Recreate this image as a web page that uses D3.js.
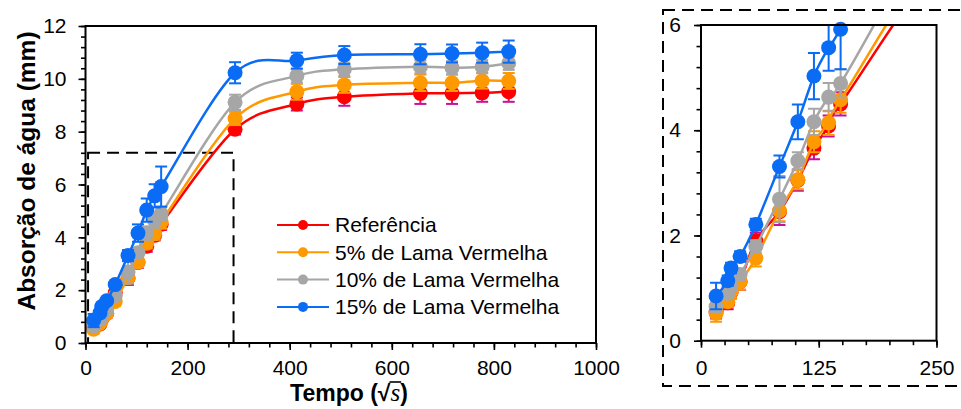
<!DOCTYPE html>
<html>
<head>
<meta charset="utf-8">
<script src="https://cdn.jsdelivr.net/npm/d3@7"></script>
<style>
  body { margin: 0; background: #fff; }
  svg { display: block; }
  text { font-family: "Liberation Sans", Arial, sans-serif; fill: #000; }
</style>
</head>
<body>
<svg id="chart" width="961" height="409"></svg>
<script>
// Time in √s for each reading
const times = [16, 28.4, 31.9, 41.5, 58.2, 83.3, 102.8, 119.9, 135.5, 148.2,
               293, 414, 507, 656, 718, 777, 829];

// Water absorption (mm) per mix
const referencia = [0.55, 0.72, 0.92, 1.12, 1.90, 2.45, 3.05, 3.66, 4.08, 4.50,
                    8.09, 9.05, 9.32, 9.45, 9.45, 9.47, 9.51];
const lama5  = [0.52, 0.74, 0.93, 1.12, 1.57, 2.47, 3.06, 3.78, 4.14, 4.58,
                8.50, 9.51, 9.77, 9.85, 9.85, 9.93, 9.92];
const lama10 = [0.65, 0.90, 1.06, 1.26, 1.79, 2.69, 3.42, 4.16, 4.63, 4.89,
                9.11, 10.11, 10.36, 10.46, 10.42, 10.46, 10.59];
const lama15 = [0.85, 1.14, 1.38, 1.60, 2.21, 3.31, 4.16, 5.03, 5.57, 5.92,
                10.23, 10.69, 10.90, 10.93, 10.96, 10.99, 11.03];

// Standard deviations (mm)
const errReferencia = [0.13, 0.12, 0.12, 0.15, 0.15, 0.25, 0.20, 0.21, 0.20, 0.22,
                       0.20, 0.25, 0.34, 0.40, 0.40, 0.34, 0.38];
const errLama5  = [0.16, 0.10, 0.12, 0.15, 0.16, 0.20, 0.18, 0.20, 0.23, 0.25,
                   0.25, 0.30, 0.30, 0.31, 0.31, 0.30, 0.30];
const errLama10 = [0.12, 0.10, 0.10, 0.10, 0.12, 0.44, 0.16, 0.25, 0.27, 0.27,
                   0.29, 0.25, 0.25, 0.25, 0.25, 0.25, 0.25];
const errLama15 = [0.25, 0.10, 0.10, 0.10, 0.11, 0.21, 0.33, 0.44, 0.44, 0.76,
                   0.40, 0.30, 0.34, 0.38, 0.34, 0.38, 0.42];

const seriesNames = ["Referência", "5% de Lama Vermelha", "10% de Lama Vermelha", "15% de Lama Vermelha"];

// Axis ticks
const mainXTicks = [0, 200, 400, 600, 800, 1000];
const mainYTicks = [0, 2, 4, 6, 8, 10, 12];
const insetXTicks = [0, 125, 250];
const insetYTicks = [0, 2, 4, 6];

// Region of the main chart that the detail panel enlarges
const zoomX = [5, 290];
const zoomY = [0, 7.2];

const series = [
  { name: seriesNames[0], values: referencia, err: errReferencia, color: "#ff0000", errColor: "#c8109a" },
  { name: seriesNames[1], values: lama5,      err: errLama5,      color: "#ff9900", errColor: "#ff9900" },
  { name: seriesNames[2], values: lama10,     err: errLama10,     color: "#a6a6a6", errColor: "#a6a6a6" },
  { name: seriesNames[3], values: lama15,     err: errLama15,     color: "#0a6cf5", errColor: "#0a6cf5" }
];

const svg = d3.select("#chart");
const FONT = 21;

// ---------- helpers ----------
function drawAxes(g, x, y, xMajor, xMinorStep, yMajor, yMinorStep, opts) {
  const [x0, x1] = x.range();
  const [y0, y1] = y.range();
  const xd = x.domain(), yd = y.domain();
  const xMinor = d3.range(0, Math.round((xd[1] - xd[0]) / xMinorStep) + 1).map(i => xd[0] + i * xMinorStep);
  const yMinor = d3.range(0, Math.round((yd[1] - yd[0]) / yMinorStep) + 1).map(i => yd[0] + i * yMinorStep);

  const style = sel => {
    sel.select(".domain").remove();
    sel.selectAll(".tick line").attr("stroke", "#000").attr("stroke-width", 1.6);
    sel.selectAll(".tick text").attr("font-size", FONT).attr("font-family", "Liberation Sans, Arial, sans-serif").attr("fill", "#000");
  };

  g.append("g").attr("transform", `translate(0,${y0})`)
    .call(d3.axisBottom(x).tickValues(xMinor).tickSize(4.5).tickFormat("")).call(style);
  g.append("g").attr("transform", `translate(0,${y0})`)
    .call(d3.axisBottom(x).tickValues(xMajor).tickSize(7).tickPadding(opts.xPad).tickFormat(d3.format("d"))).call(style);
  g.append("g").attr("transform", `translate(${x0},0)`)
    .call(d3.axisLeft(y).tickValues(yMinor).tickSize(4.5).tickFormat("")).call(style);
  g.append("g").attr("transform", `translate(${x0},0)`)
    .call(d3.axisLeft(y).tickValues(yMajor).tickSize(7).tickPadding(opts.yPad).tickFormat(d3.format("d"))).call(style);

  g.append("rect")
    .attr("x", x0).attr("y", y1).attr("width", x1 - x0).attr("height", y0 - y1)
    .attr("fill", "none").attr("stroke", "#000").attr("stroke-width", 2);
}

function drawSeries(g, x, y, s, opts) {
  const pts = times.map((t, i) => ({ t, v: s.values[i], e: s.err[i] }));
  const shown = pts.filter(p => p.t <= x.domain()[1]);
  const line = d3.line().x(p => x(p.t)).y(p => y(p.v)).curve(d3.curveCardinal.tension(0));

  const clipped = g.append("g").attr("clip-path", opts.clip ? `url(#${opts.clip})` : null);
  clipped.append("path").datum(pts)
    .attr("d", line).attr("fill", "none")
    .attr("stroke", s.color).attr("stroke-width", 2.5);

  const eb = clipped.append("g").attr("stroke", s.errColor).attr("stroke-width", 2);
  shown.forEach(p => {
    const xc = x(p.t), yt = y(p.v + p.e), yb = y(p.v - p.e);
    eb.append("line").attr("x1", xc).attr("x2", xc).attr("y1", yt).attr("y2", yb);
    eb.append("line").attr("x1", xc - 6).attr("x2", xc + 6).attr("y1", yt).attr("y2", yt);
    eb.append("line").attr("x1", xc - 6).attr("x2", xc + 6).attr("y1", yb).attr("y2", yb);
  });

  g.append("g").selectAll("circle").data(shown).join("circle")
    .attr("cx", p => x(p.t)).attr("cy", p => y(p.v)).attr("r", 7.5)
    .attr("fill", s.color);
}

// ---------- main chart ----------
const xMain = d3.scaleLinear().domain([0, 1000]).range([85.5, 596]);
const yMain = d3.scaleLinear().domain([0, 12]).range([343, 26]);
const gMain = svg.append("g");

// dashed outline of the enlarged window
gMain.append("rect")
  .attr("x", xMain(zoomX[0])).attr("y", yMain(zoomY[1]))
  .attr("width", xMain(zoomX[1]) - xMain(zoomX[0]))
  .attr("height", yMain(zoomY[0]) - yMain(zoomY[1]))
  .attr("fill", "none").attr("stroke", "#000").attr("stroke-width", 2)
  .attr("stroke-dasharray", "12 7");

series.forEach(s => drawSeries(gMain, xMain, yMain, s, {}));
drawAxes(gMain, xMain, yMain, mainXTicks, 40, mainYTicks, 0.4, { xPad: 10, yPad: 12 });

// legend
const legend = gMain.append("g");
series.forEach((s, i) => {
  const cy = 225 + i * 27.3;
  legend.append("line").attr("x1", 277).attr("x2", 329).attr("y1", cy).attr("y2", cy)
    .attr("stroke", s.color).attr("stroke-width", 2);
  legend.append("circle").attr("cx", 303).attr("cy", cy).attr("r", 5).attr("fill", s.color);
  legend.append("text").attr("x", 335).attr("y", cy).attr("dy", "0.35em")
    .attr("font-size", FONT).text(s.name);
});

// axis titles
svg.append("text")
  .attr("transform", "translate(35,171) rotate(-90)")
  .attr("text-anchor", "middle").attr("font-size", 24.5).attr("font-weight", "bold")
  .text("Absorção de água (mm)");

const xTitle = svg.append("text")
  .attr("x", 349).attr("y", 401).attr("text-anchor", "middle")
  .attr("font-size", 23).attr("font-weight", "bold");
xTitle.append("tspan").text("Tempo (");
xTitle.append("tspan").text("√");
xTitle.append("tspan").attr("font-family", "Liberation Serif, serif").attr("font-style", "italic")
  .attr("font-weight", "normal").attr("font-size", 25).text("s");
xTitle.append("tspan").text(")");
{
  // vinculum over the radicand
  const node = xTitle.node();
  const root = node.getExtentOfChar(7);
  const rad = node.getExtentOfChar(8);
  svg.append("line")
    .attr("x1", root.x + root.width - 1).attr("x2", rad.x + rad.width + 1)
    .attr("y1", root.y + 2).attr("y2", root.y + 2)
    .attr("stroke", "#000").attr("stroke-width", 1.6);
}

// ---------- detail panel ----------
const xIn = d3.scaleLinear().domain([0, 250]).range([701, 936.5]);
const yIn = d3.scaleLinear().domain([0, 6]).range([340.7, 25]);
const gIn = svg.append("g");

svg.append("defs").append("clipPath").attr("id", "insetClip")
  .append("rect").attr("x", xIn(0)).attr("y", yIn(6))
  .attr("width", xIn(250) - xIn(0)).attr("height", yIn(0) - yIn(6));

gIn.append("rect")
  .attr("x", 663).attr("y", 10).attr("width", 320).attr("height", 376)
  .attr("fill", "none").attr("stroke", "#000").attr("stroke-width", 2)
  .attr("stroke-dasharray", "12 7");

series.forEach(s => drawSeries(gIn, xIn, yIn, s, { clip: "insetClip" }));
drawAxes(gIn, xIn, yIn, insetXTicks, 25, insetYTicks, 0.4, { xPad: 12, yPad: 13 });
</script>
</body>
</html>
